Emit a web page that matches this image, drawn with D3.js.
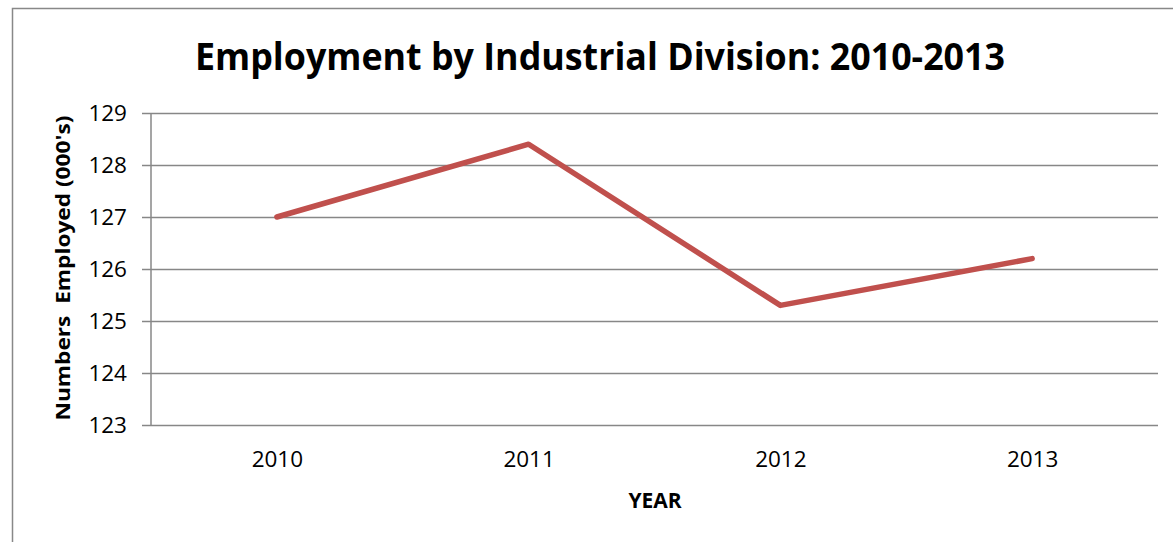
<!DOCTYPE html>
<html>
<head>
<meta charset="utf-8">
<script src="https://cdn.jsdelivr.net/npm/d3@7"></script>
<style>
  body { margin: 0; background: #fff; }
  svg { display: block; }
  text { font-family: "Open Sans", sans-serif; fill: #000; }
</style>
</head>
<body>
<svg id="chart" width="1173" height="542"></svg>
<script>
// data
var years = ["2010", "2011", "2012", "2013"];
var employed = [127.0, 128.4, 125.3, 126.2];
var yTicks = [123, 124, 125, 126, 127, 128, 129];

var W = 1173, H = 542;
var plot = { left: 151, right: 1158, top: 113, bottom: 425 };

var svg = d3.select("#chart");

// chart area border (runs off the right/bottom of the window)
svg.append("rect")
    .attr("x", 12.5).attr("y", 8.5)
    .attr("width", W + 20).attr("height", H + 20)
    .attr("fill", "#fff")
    .attr("stroke", "#888")
    .attr("stroke-width", 1.5);

var x = d3.scalePoint()
    .domain(years)
    .range([plot.left, plot.right])
    .padding(0.5);

var y = d3.scaleLinear()
    .domain([123, 129])
    .range([plot.bottom, plot.top]);

// gridlines + left ticks
var yAxis = d3.axisLeft(y)
    .tickValues(yTicks)
    .tickSize(-(plot.right - plot.left))
    .tickPadding(0)
    .tickFormat("");

var gy = svg.append("g")
    .attr("transform", "translate(" + plot.left + ",0)")
    .call(yAxis);
gy.select(".domain").remove();
gy.selectAll(".tick line")
    .attr("x1", -9)
    .attr("stroke", "#878787")
    .attr("stroke-width", 1.5);

// y tick labels
svg.append("g").selectAll("text")
    .data(yTicks)
    .join("text")
    .attr("x", 127)
    .attr("y", (d) => y(d))
    .attr("dy", "0.36em")
    .attr("text-anchor", "end")
    .style("font-size", "22.5px")
    .text((d) => d);

// vertical axis line
svg.append("line")
    .attr("x1", plot.left).attr("x2", plot.left)
    .attr("y1", plot.top).attr("y2", plot.bottom)
    .attr("stroke", "#878787")
    .attr("stroke-width", 1.5);

// x axis labels, no ticks
var xAxis = d3.axisBottom(x).tickSize(0).tickPadding(26);
var gx = svg.append("g")
    .attr("transform", "translate(0," + plot.bottom + ")")
    .call(xAxis);
gx.select(".domain").remove();
gx.selectAll(".tick text")
    .style("font-family", "'Open Sans', sans-serif")
    .style("font-size", "22.5px")
    .attr("fill", "#000");

// the series line
var line = d3.line()
    .x((d, i) => x(years[i]))
    .y((d) => y(d));

svg.append("path")
    .datum(employed)
    .attr("d", line)
    .attr("fill", "none")
    .attr("stroke", "#C0504D")
    .attr("stroke-width", 5.5)
    .attr("stroke-linejoin", "round")
    .attr("stroke-linecap", "round");

// title
svg.append("text")
    .attr("x", 600)
    .attr("y", 70)
    .attr("text-anchor", "middle")
    .attr("textLength", 810)
    .attr("lengthAdjust", "spacingAndGlyphs")
    .style("font-size", "38px")
    .style("font-weight", "bold")
    .text("Employment by Industrial Division: 2010-2013");

// axis titles
svg.append("text")
    .attr("x", 655)
    .attr("y", 508)
    .attr("text-anchor", "middle")
    .style("font-size", "21px")
    .style("font-weight", "bold")
    .text("YEAR");

svg.append("text")
    .attr("transform", "translate(70,268) rotate(-90)")
    .attr("text-anchor", "middle")
    .attr("textLength", 305)
    .attr("lengthAdjust", "spacingAndGlyphs")
    .style("font-size", "20px")
    .style("font-weight", "bold")
    .style("white-space", "pre")
    .text("Numbers  Employed (000's)");
</script>
</body>
</html>
